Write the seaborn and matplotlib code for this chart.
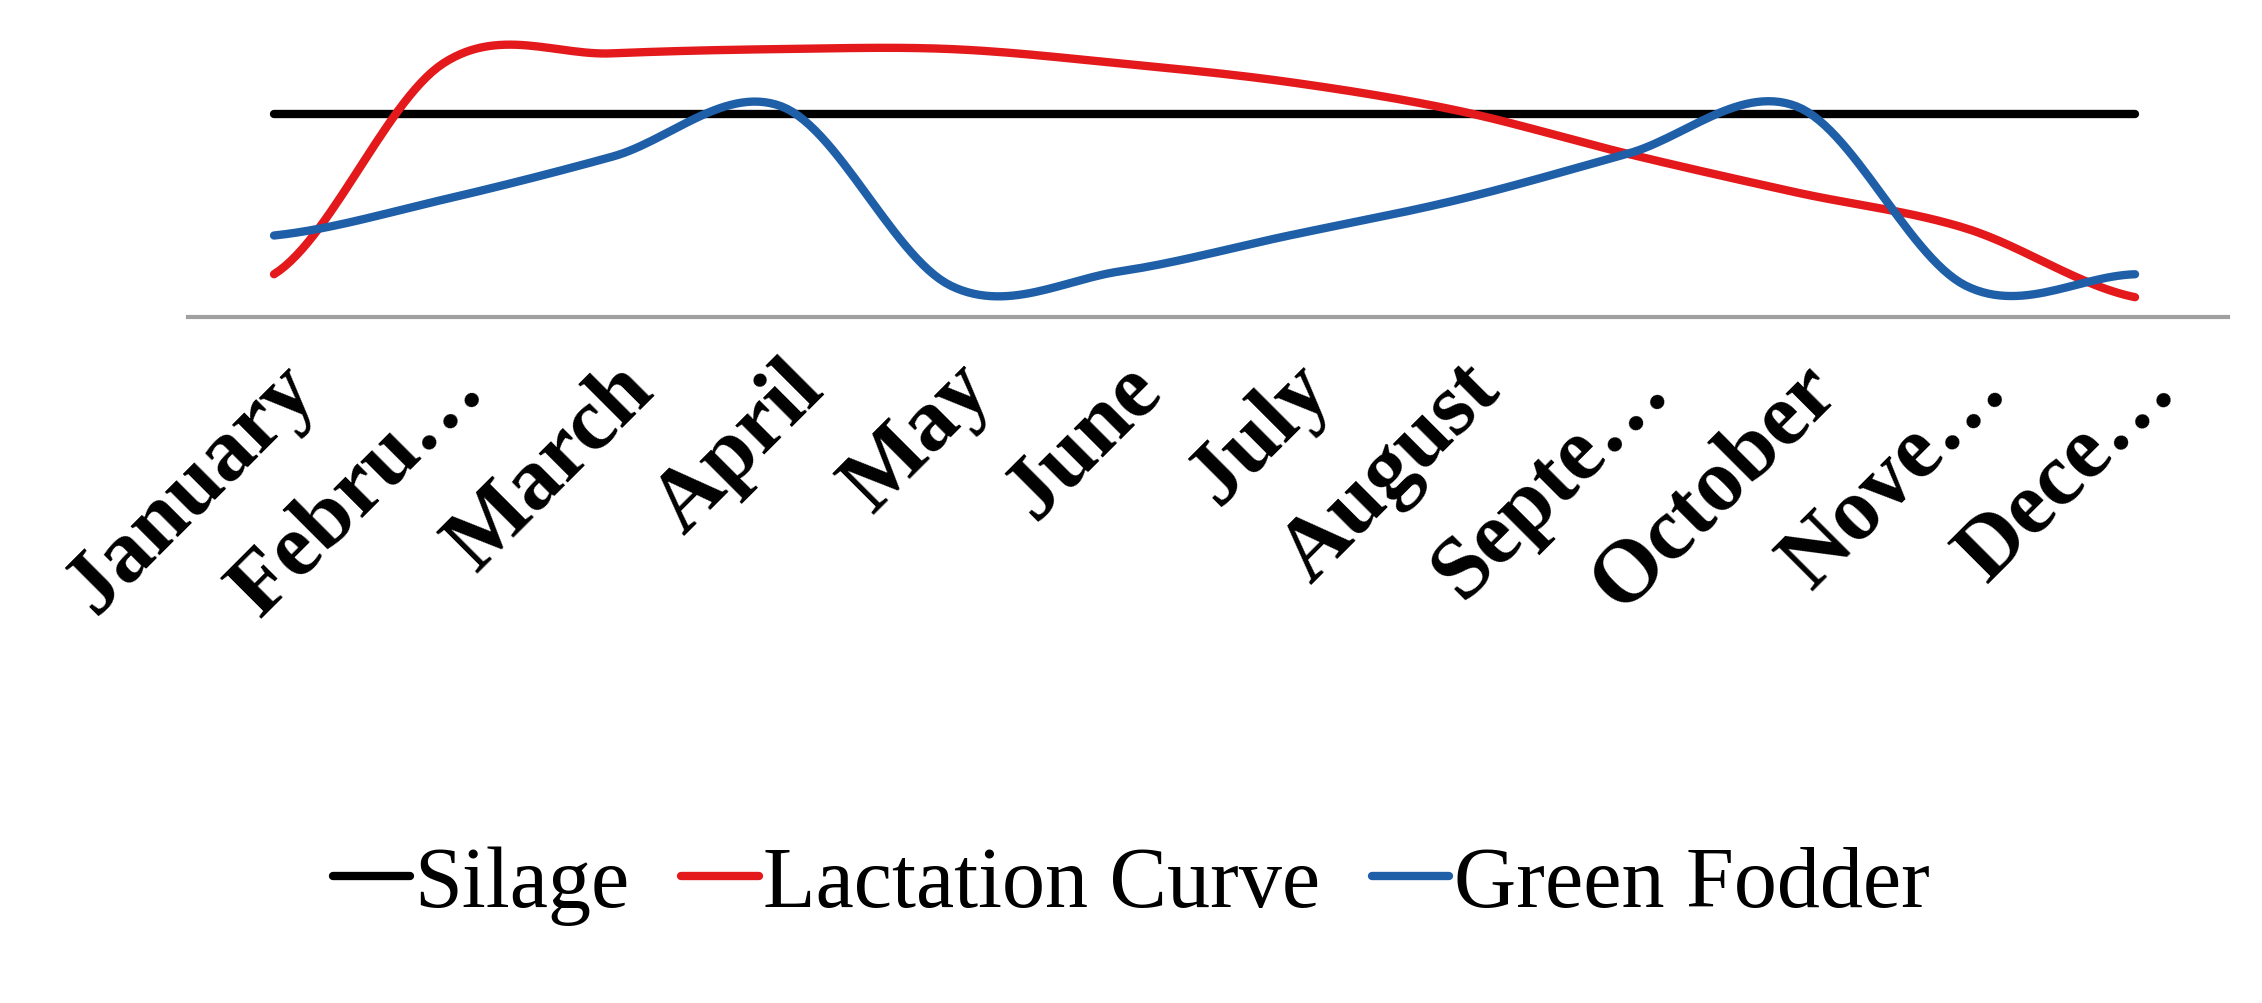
import matplotlib
matplotlib.use("Agg")
import matplotlib.pyplot as plt
import numpy as np
import pandas as pd
import seaborn as sns

months = ["January", "Febru…", "March", "April", "May", "June", "July",
          "August", "Septe…", "October", "Nove…", "Dece…"]
silage = [14.2] * 12
lactation = [3.0, 17.7, 18.4, 18.7, 18.7, 17.7, 16.4, 14.4, 11.4, 8.7, 6.2, 1.4]
green_fodder = [5.7, 8.2, 11.2, 14.7, 2.2, 3.2, 5.7, 8.2, 11.4, 14.7, 2.2, 3.0]


def smooth(vals, n=30):
    # Catmull-Rom style smoothing, like Excel's smoothed lines
    p = np.array(vals, dtype=float)
    p = np.concatenate([[p[0]], p, [p[-1]]])
    xs, ys = [], []
    for i in range(1, len(p) - 2):
        t = np.linspace(0, 1, n, endpoint=False)
        p0, p1, p2, p3 = p[i - 1], p[i], p[i + 1], p[i + 2]
        y = 0.5 * ((2 * p1) + (-p0 + p2) * t + (2 * p0 - 5 * p1 + 4 * p2 - p3) * t ** 2
                   + (-p0 + 3 * p1 - 3 * p2 + p3) * t ** 3)
        xs.extend(i - 1 + t)
        ys.extend(y)
    xs.append(len(vals) - 1)
    ys.append(vals[-1])
    return np.array(xs), np.array(ys)


frames = []
for name, vals in [("Silage", silage), ("Lactation Curve", lactation), ("Green Fodder", green_fodder)]:
    x, y = smooth(vals)
    frames.append(pd.DataFrame({"x": x, "y": y, "series": name}))
df = pd.concat(frames)

sns.set_style("white")
plt.rcParams['font.family'] = ['Liberation Serif', 'DejaVu Serif']

colors = {"Silage": "black", "Lactation Curve": "#e3191c", "Green Fodder": "#1f5fa8"}

fig = plt.figure(figsize=(22.62, 10.04), dpi=100)
ax = fig.add_axes([0.083, 0.683, 0.902, 0.30])
sns.lineplot(data=df, x="x", y="y", hue="series", sort=False, ax=ax, linewidth=6,
             palette=colors, legend=False)

ax.set_xlim(-0.51, 11.55)
ax.set_ylim(0, 21)
ax.set_xticks(range(12))
ax.set_xticklabels(months, rotation=45, ha="right", rotation_mode="anchor",
                   fontsize=64, fontweight="bold", color="black")
ax.tick_params(axis="x", length=0, pad=22)
ax.set_yticks([])
ax.set_xlabel("")
ax.set_ylabel("")
for s in ["top", "right", "left"]:
    ax.spines[s].set_visible(False)
ax.spines["bottom"].set_color("#a0a0a0")
ax.spines["bottom"].set_linewidth(3)

handles = [plt.Line2D([], [], color=c, linewidth=6) for c in colors.values()]
leg = fig.legend(handles, list(colors.keys()), loc="lower center",
                 bbox_to_anchor=(0.5, 0.0), ncol=3, frameon=False, fontsize=62,
                 handlelength=0.9, handletextpad=0.05, columnspacing=0.6)
for t in leg.get_texts():
    t.set_color("black")

fig.savefig("out.png", dpi=100)
